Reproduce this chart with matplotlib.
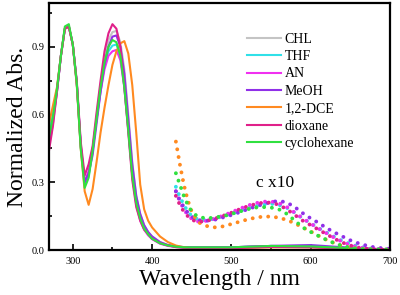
import matplotlib
matplotlib.use('Agg')
import matplotlib.pyplot as plt
from matplotlib.ticker import MultipleLocator

plt.rcParams['font.family'] = ['Liberation Serif', 'DejaVu Serif']

# Solvent names and colours (legend order)
solvents = ['CHL', 'THF', 'AN', 'MeOH', '1,2-DCE', 'dioxane', 'cyclohexane']
colors = ['#c4c4c4', '#30e0e8', '#f030f0', '#9030e8', '#ff8a20', '#e0208a', '#30e040']

# Normalised absorption spectra (solid lines)
wl = [270, 275, 280, 285, 290, 295, 300, 305, 310, 315, 320, 325, 330, 335, 340,
      345, 350, 355, 360, 365, 370, 375, 380, 385, 390, 395, 400, 410, 420, 430,
      440, 450, 500, 550, 600, 650, 700]

abs_chl = [0.54, 0.61, 0.71, 0.86, 0.98, 0.99, 0.91, 0.74, 0.46, 0.29, 0.33, 0.44, 0.59, 0.73,
           0.85, 0.93, 0.965, 0.97, 0.92, 0.80, 0.60, 0.39, 0.24, 0.16, 0.11, 0.08, 0.06, 0.035,
           0.022, 0.016, 0.013, 0.012, 0.012, 0.018, 0.016, 0.008, 0.002]
abs_thf = [0.52, 0.60, 0.71, 0.86, 0.98, 0.99, 0.91, 0.74, 0.46, 0.295, 0.33, 0.44, 0.58, 0.71,
           0.82, 0.88, 0.905, 0.91, 0.86, 0.73, 0.54, 0.34, 0.21, 0.14, 0.095, 0.07, 0.05, 0.03,
           0.02, 0.015, 0.012, 0.011, 0.012, 0.018, 0.016, 0.008, 0.002]
abs_an = [0.46, 0.56, 0.70, 0.86, 0.98, 0.99, 0.91, 0.74, 0.47, 0.30, 0.35, 0.45, 0.58, 0.70,
          0.80, 0.86, 0.88, 0.886, 0.84, 0.72, 0.53, 0.33, 0.20, 0.13, 0.09, 0.065, 0.048, 0.028,
          0.018, 0.013, 0.011, 0.010, 0.012, 0.018, 0.018, 0.008, 0.002]
abs_meoh = [0.48, 0.58, 0.70, 0.86, 0.98, 0.99, 0.91, 0.74, 0.46, 0.30, 0.34, 0.42, 0.56, 0.70,
            0.82, 0.90, 0.945, 0.95, 0.90, 0.78, 0.58, 0.38, 0.24, 0.16, 0.11, 0.08, 0.06, 0.035,
            0.022, 0.016, 0.013, 0.012, 0.012, 0.018, 0.022, 0.01, 0.002]
abs_dce = [0.56, 0.64, 0.72, 0.86, 0.98, 0.99, 0.91, 0.73, 0.45, 0.26, 0.20, 0.27, 0.39, 0.52,
           0.63, 0.73, 0.82, 0.88, 0.915, 0.925, 0.87, 0.73, 0.52, 0.29, 0.18, 0.13, 0.10, 0.06,
           0.035, 0.02, 0.012, 0.008, 0.008, 0.012, 0.012, 0.006, 0.002]
abs_diox = [0.44, 0.55, 0.70, 0.86, 0.98, 0.99, 0.91, 0.75, 0.48, 0.33, 0.38, 0.46, 0.61, 0.75,
            0.88, 0.96, 1.0, 0.98, 0.90, 0.72, 0.52, 0.31, 0.19, 0.13, 0.09, 0.07, 0.05, 0.03,
            0.02, 0.013, 0.01, 0.008, 0.008, 0.014, 0.012, 0.005, 0.001]
abs_chx = [0.50, 0.59, 0.71, 0.86, 0.99, 1.0, 0.91, 0.74, 0.45, 0.275, 0.32, 0.44, 0.58, 0.72,
           0.83, 0.90, 0.93, 0.92, 0.86, 0.72, 0.53, 0.33, 0.21, 0.14, 0.095, 0.07, 0.05, 0.03,
           0.02, 0.015, 0.012, 0.012, 0.012, 0.018, 0.016, 0.008, 0.002]

# Weak band, multiplied by 10 (dotted lines)
wl_x10 = [430, 435, 440, 445, 450, 455, 460, 470, 480, 490, 500, 510, 520, 530, 540, 550,
          560, 570, 580, 590, 600, 610, 620, 630, 640, 650, 660, 670, 680, 690, 700]

x10_thf = [0.28, 0.235, 0.20, 0.17, 0.15, 0.14, 0.133, 0.133, 0.14, 0.15, 0.16, 0.172, 0.183,
           0.193, 0.20, 0.205, 0.20, 0.187, 0.165, 0.14, 0.118, 0.097, 0.077, 0.058, 0.04,
           0.027, 0.016, 0.009, 0.005, 0.003, 0.002]
x10_an = [0.26, 0.215, 0.18, 0.155, 0.138, 0.128, 0.125, 0.13, 0.14, 0.153, 0.167, 0.182, 0.196,
          0.207, 0.214, 0.215, 0.208, 0.19, 0.165, 0.14, 0.117, 0.095, 0.074, 0.054, 0.036,
          0.022, 0.012, 0.007, 0.004, 0.002, 0.002]
x10_meoh = [0.26, 0.22, 0.19, 0.165, 0.148, 0.138, 0.132, 0.13, 0.135, 0.145, 0.155, 0.167, 0.18,
            0.192, 0.203, 0.212, 0.218, 0.21, 0.19, 0.163, 0.14, 0.12, 0.097, 0.078, 0.06,
            0.043, 0.03, 0.02, 0.012, 0.008, 0.005]
x10_dce = [0.48, 0.38, 0.29, 0.22, 0.17, 0.14, 0.12, 0.105, 0.10, 0.105, 0.115, 0.125, 0.135,
           0.143, 0.148, 0.148, 0.143, 0.133, 0.118, 0.10, 0.082, 0.063, 0.045, 0.03, 0.018,
           0.01, 0.006, 0.004, 0.003, 0.002, 0.002]
x10_diox = [0.24, 0.20, 0.17, 0.15, 0.135, 0.127, 0.125, 0.13, 0.14, 0.152, 0.165, 0.18, 0.193,
            0.203, 0.21, 0.21, 0.20, 0.18, 0.155, 0.13, 0.11, 0.09, 0.07, 0.05, 0.033, 0.02,
            0.011, 0.006, 0.003, 0.002, 0.002]
x10_chx = [0.34, 0.29, 0.24, 0.20, 0.17, 0.155, 0.145, 0.14, 0.145, 0.15, 0.16, 0.17, 0.18,
           0.188, 0.19, 0.188, 0.18, 0.16, 0.13, 0.10, 0.08, 0.062, 0.045, 0.03, 0.018, 0.01,
           0.006, 0.004, 0.003, 0.002, 0.002]

solid = [abs_chl, abs_thf, abs_an, abs_meoh, abs_dce, abs_diox, abs_chx]
dotted = {'THF': x10_thf, 'AN': x10_an, 'MeOH': x10_meoh, '1,2-DCE': x10_dce,
          'dioxane': x10_diox, 'cyclohexane': x10_chx}

fig = plt.figure(figsize=(4.0, 2.95), dpi=100)
ax = fig.add_axes([0.1225, 0.1525, 0.8525, 0.8375])

for name, col, y in zip(solvents, colors, solid):
    ax.plot(wl, y, color=col, lw=1.5, label=name)

for name, col in zip(solvents, colors):
    if name in dotted:
        ax.plot(wl_x10, dotted[name], color=col, lw=2.8,
                linestyle=(0, (0.01, 2.0)), dash_capstyle='round')

ax.text(531, 0.297, 'c x10', fontsize=12.5, va='center', ha='left')

ax.set_xlim(270, 700)
ax.set_ylim(0, 1.094)
ax.xaxis.set_major_locator(MultipleLocator(100))
ax.xaxis.set_minor_locator(MultipleLocator(50))
ax.yaxis.set_major_locator(MultipleLocator(0.3))
ax.yaxis.set_minor_locator(MultipleLocator(0.15))
ax.yaxis.set_major_formatter(matplotlib.ticker.FormatStrFormatter('%.1f'))
ax.tick_params(which='both', direction='in', labelsize=7.5, width=1.2)
ax.tick_params(which='major', length=4)
ax.tick_params(which='minor', length=2.5)
ax.tick_params(axis='x', pad=5)
for sp in ax.spines.values():
    sp.set_linewidth(1.6)

ax.set_xlabel('Wavelength / nm', fontsize=17, labelpad=2)
ax.set_ylabel('Normalized Abs.', fontsize=17, labelpad=2)

ax.legend(frameon=False, fontsize=10, loc='upper left',
          bbox_to_anchor=(0.585, 0.932), bbox_transform=fig.transFigure,
          handlelength=2.45, handletextpad=0.3, labelspacing=0.32,
          borderpad=0.4)

fig.savefig('out.png', dpi=100)
